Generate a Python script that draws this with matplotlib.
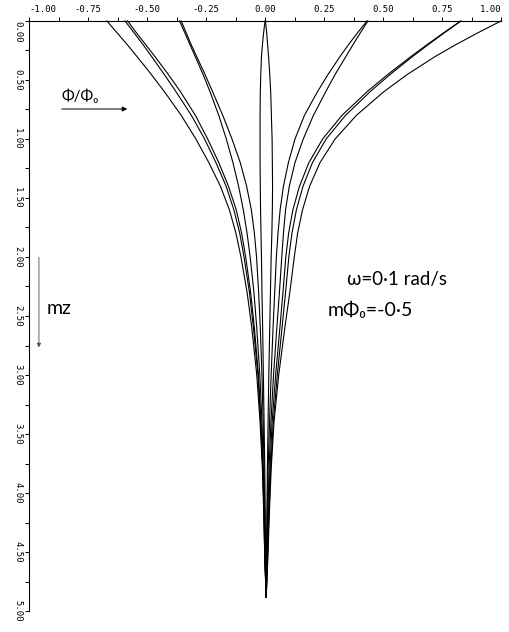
import numpy as np
import matplotlib
matplotlib.use('Agg')
import matplotlib.pyplot as plt

depth = [0.0, 0.1, 0.2, 0.3, 0.45, 0.6, 0.8, 1.0, 1.2, 1.4, 1.6, 1.8, 2.0,
         2.3, 2.6, 3.0, 3.4, 3.8, 4.2, 4.55, 4.88]

# Phi/Phi0 profiles, named by their surface value
prof_m067  = [-0.670, -0.627, -0.584, -0.543, -0.483, -0.426, -0.355, -0.293, -0.238, -0.189, -0.151,
              -0.123, -0.102, -0.076, -0.056, -0.035, -0.021, -0.011, -0.005, -0.001, 0.005]
prof_m059a = [-0.593, -0.555, -0.517, -0.481, -0.428, -0.377, -0.312, -0.256, -0.208, -0.165, -0.132,
              -0.107, -0.089, -0.066, -0.049, -0.030, -0.018, -0.0095, -0.004, -0.001, 0.005]
prof_m059b = [-0.582, -0.545, -0.506, -0.467, -0.411, -0.358, -0.295, -0.243, -0.196, -0.155, -0.122,
              -0.099, -0.082, -0.061, -0.045, -0.028, -0.017, -0.009, -0.004, -0.001, 0.005]
prof_m036a = [-0.362, -0.340, -0.318, -0.296, -0.263, -0.233, -0.196, -0.164, -0.136, -0.112, -0.092,
              -0.076, -0.063, -0.047, -0.035, -0.022, -0.013, -0.007, -0.003, 0.0, 0.005]
prof_m036b = [-0.355, -0.334, -0.313, -0.290, -0.255, -0.222, -0.179, -0.140, -0.105, -0.078, -0.058,
              -0.045, -0.036, -0.027, -0.020, -0.013, -0.008, -0.004, -0.001, 0.001, 0.005]
prof_0a    = [0.0, -0.006, -0.011, -0.015, -0.018, -0.020, -0.021, -0.021, -0.021, -0.020, -0.019,
              -0.017, -0.015, -0.013, -0.010, -0.007, -0.004, -0.001, 0.001, 0.003, 0.005]
prof_0b    = [0.002, 0.007, 0.011, 0.015, 0.020, 0.024, 0.027, 0.030, 0.031, 0.032, 0.031,
              0.029, 0.026, 0.023, 0.020, 0.016, 0.013, 0.010, 0.008, 0.006, 0.005]
prof_043a  = [0.432, 0.392, 0.354, 0.318, 0.268, 0.222, 0.167, 0.127, 0.099, 0.078, 0.064,
              0.055, 0.048, 0.041, 0.034, 0.026, 0.019, 0.013, 0.009, 0.007, 0.005]
prof_043b  = [0.436, 0.404, 0.373, 0.343, 0.298, 0.257, 0.205, 0.162, 0.127, 0.103, 0.087,
              0.078, 0.071, 0.061, 0.050, 0.036, 0.025, 0.017, 0.012, 0.009, 0.005]
prof_083a  = [0.829, 0.757, 0.687, 0.619, 0.522, 0.432, 0.326, 0.244, 0.186, 0.146, 0.118,
              0.100, 0.088, 0.076, 0.063, 0.045, 0.030, 0.021, 0.014, 0.010, 0.005]
prof_083b  = [0.830, 0.760, 0.692, 0.626, 0.532, 0.445, 0.341, 0.259, 0.201, 0.161, 0.133,
              0.114, 0.101, 0.087, 0.072, 0.052, 0.035, 0.024, 0.016, 0.011, 0.005]
prof_100   = [1.000, 0.902, 0.809, 0.722, 0.605, 0.503, 0.387, 0.297, 0.233, 0.189, 0.159,
              0.138, 0.124, 0.105, 0.084, 0.058, 0.038, 0.026, 0.018, 0.012, 0.005]

profiles = [prof_m067, prof_m059a, prof_m059b, prof_m036a, prof_m036b, prof_0a,
            prof_0b, prof_043a, prof_043b, prof_083a, prof_083b, prof_100]

xticks = [-1.0, -0.75, -0.5, -0.25, 0.0, 0.25, 0.5, 0.75, 1.0]
xtick_labels = ["-1.00", "-0.75", "-0.50", "-0.25", "0.00", "0.25", "0.50", "0.75", "1.00"]
yticks = [0.0, 0.5, 1.0, 1.5, 2.0, 2.5, 3.0, 3.5, 4.0, 4.5, 5.0]
ytick_labels = ["0.00", "0.50", "1.00", "1.50", "2.00", "2.50", "3.00", "3.50", "4.00", "4.50", "5.00"]

fig = plt.figure(figsize=(5.1, 6.32), dpi=100)
ax = fig.add_axes([0.0569, 0.0332, 0.9255, 0.9336])

for p in profiles:
	ax.plot(p, depth, color='black', lw=0.8, clip_on=False)

ax.set_xlim(-1, 1)
ax.set_ylim(5, 0)
ax.spines['right'].set_visible(False)
ax.spines['bottom'].set_visible(False)
ax.spines['top'].set_linewidth(0.8)
ax.spines['left'].set_linewidth(0.8)

ax.xaxis.tick_top()
ax.set_xticks(xticks)
ax.set_xticks(np.arange(-1, 1.01, 0.125), minor=True)
ax.set_xticklabels(xtick_labels, family='DejaVu Sans Mono', fontsize=6.5)
ax.set_yticks(yticks)
ax.set_yticks(np.arange(0, 5.01, 0.25), minor=True)
ax.set_yticklabels(ytick_labels, family='DejaVu Sans Mono', fontsize=6.5)
ax.tick_params(which='both', direction='out', length=3, width=0.7, pad=2)

for lab in ax.get_yticklabels():
	lab.set_rotation(-90)
	lab.set_va('center')
ax.get_yticklabels()[0].set_va('top')
xl = ax.get_xticklabels()
xl[0].set_ha('left')
xl[-1].set_ha('right')

txt_font = ['Lato', 'DejaVu Sans']

# Phi/Phi0 direction arrow
ax.annotate('', xy=(-0.572, 0.746), xytext=(-0.873, 0.746),
	arrowprops=dict(arrowstyle='-|>', color='black', lw=0.7, mutation_scale=7))
ax.text(-0.784, 0.64, 'Φ/Φ₀', ha='center', va='center', fontsize=11,
	family=txt_font, color='black')

# mz direction arrow
ax.annotate('', xy=(-0.958, 2.79), xytext=(-0.958, 1.98),
	arrowprops=dict(arrowstyle='-|>', color='0.3', lw=0.6, mutation_scale=6))
ax.text(-0.924, 2.44, 'mz', ha='left', va='center', fontsize=14,
	family=txt_font, color='black')

ax.text(0.347, 2.19, 'ω=0·1 rad/s', ha='left', va='center', fontsize=13.5,
	family=txt_font, color='black')
ax.text(0.267, 2.45, 'mΦ₀=-0·5', ha='left', va='center', fontsize=14,
	family=txt_font, color='black')

fig.savefig('out.png', dpi=100)
